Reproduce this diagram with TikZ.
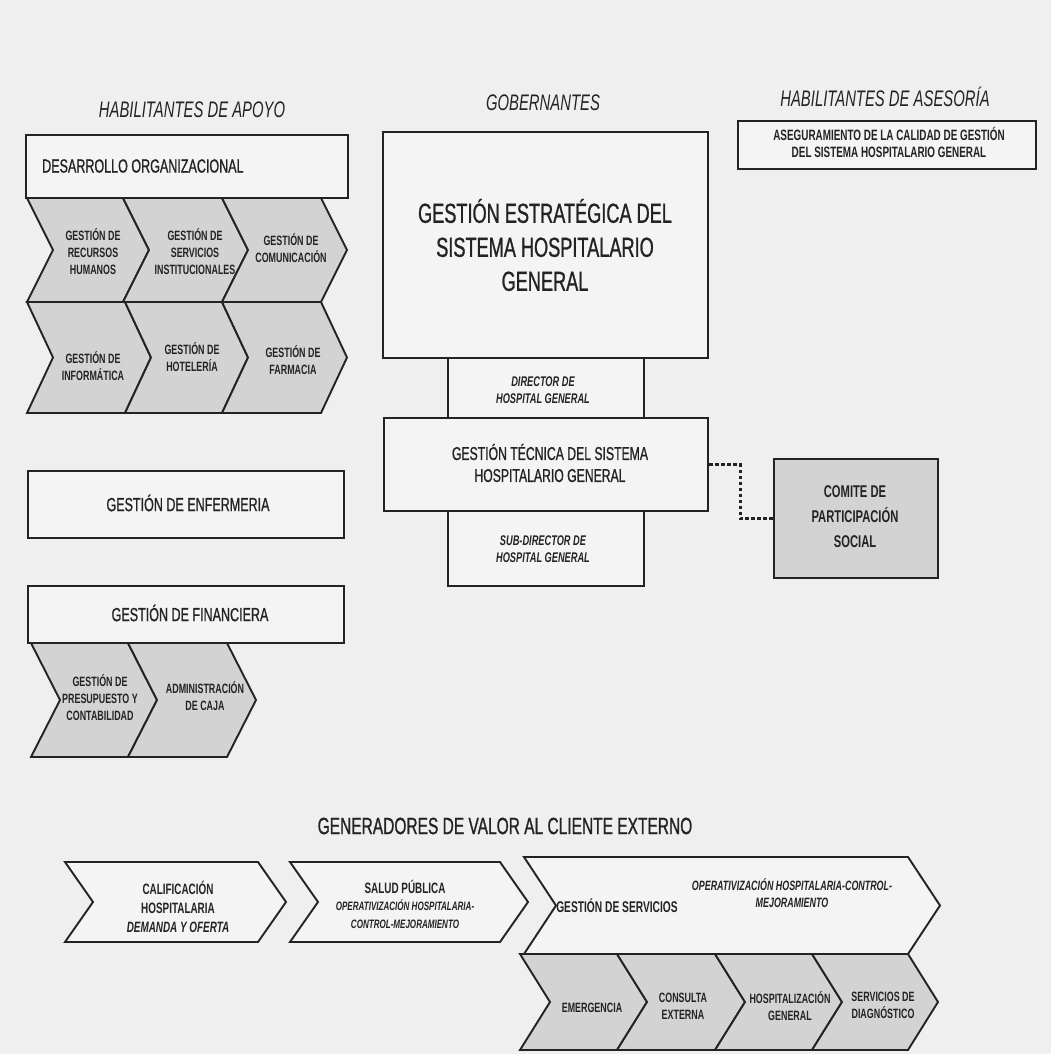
\documentclass[tikz,border=0pt]{standalone}
\usepackage{fontspec}
\setmainfont{Liberation Sans}[FakeStretch=0.66]
\newfontfamily\medfont{Liberation Sans}[FakeStretch=0.66, FakeBold=0.9]
\definecolor{bgc}{HTML}{EFEFEF}
\definecolor{boxc}{HTML}{F4F4F4}
\definecolor{chev}{HTML}{D3D3D3}
\definecolor{ink}{HTML}{232323}
\newcommand{\chevr}[6]{%
  \draw[#1] (#2,#4) -- (#3,#4) -- ({#3+#6},{(#4+#5)/2}) -- (#3,#5) -- (#2,#5) -- ({#2+#6},{(#4+#5)/2}) -- cycle;}
\newcommand{\fs}[2]{\fontsize{#1}{#2}\selectfont}
\begin{document}
\begin{tikzpicture}[x=1pt,y=-1pt,
  box/.style={draw=ink, line width=2.3pt, fill=boxc, inner sep=0pt, anchor=north west},
  gch/.style={draw=ink, line width=1.9pt, fill=chev, line join=miter},
  wch/.style={draw=ink, line width=1.9pt, fill=boxc, line join=miter},
  ttl/.style={text=ink, inner sep=0pt, font=\itshape\fs{22.5}{26}},
  hd/.style={text=ink, inner sep=0pt, font=\medfont\fs{23.5}{26}},
  big/.style={text=ink, inner sep=0pt, align=center, font=\medfont\fs{19}{23}},
  lab/.style={text=ink, inner sep=0pt, align=center, font=\bfseries\fs{13.5}{17}},
  ilab/.style={text=ink, inner sep=0pt, align=center, font=\bfseries\itshape\fs{14}{17}},
  dots/.style={draw=ink, line width=3pt, dash pattern=on 3.5pt off 2.5pt}]
\useasboundingbox (0,0) rectangle (1051,1054);
\fill[bgc] (0,0) rectangle (1051,1054);

% section titles
\node[ttl] (t1) at (192,110) {HABILITANTES DE APOYO};
\node[ttl] (t2) at (543,103) {GOBERNANTES};
\node[ttl] (t3) at (885,97) {HABILITANTES DE ASESORÍA};
\node[hd] (t4) at (505,826) {GENERADORES DE VALOR AL CLIENTE EXTERNO};

% ---------- left column ----------
\node[box, minimum width=322pt, minimum height=63pt] (desb) at (25,134) {};
\node[big, anchor=west] (dest) at (42,166) {DESARROLLO ORGANIZACIONAL};

\chevr{gch}{27}{123}{198}{302}{26}
\chevr{gch}{123}{222}{198}{302}{26}
\chevr{gch}{222}{321}{198}{302}{26}
\node[lab] (rh) at (93,252) {GESTIÓN DE\\RECURSOS\\HUMANOS};
\node[lab] (si) at (195,252) {GESTIÓN DE\\SERVICIOS\\INSTITUCIONALES};
\node[lab] (co) at (291,248) {GESTIÓN DE\\COMUNICACIÓN};

\chevr{gch}{27}{125}{302}{413}{26}
\chevr{gch}{125}{222}{302}{413}{26}
\chevr{gch}{222}{321}{302}{413}{26}
\node[lab] (inf) at (93,366) {GESTIÓN DE\\INFORMÁTICA};
\node[lab] (hot) at (192,357) {GESTIÓN DE\\HOTELERÍA};
\node[lab] (far) at (293,360) {GESTIÓN DE\\FARMACIA};

\node[box, minimum width=316pt, minimum height=67pt] (enfb) at (27,470) {};
\node[big] (enft) at (188,503) {GESTIÓN DE ENFERMERIA};

\node[box, minimum width=316pt, minimum height=57pt] (finb) at (27,585) {};
\node[big] (fint) at (190,613) {GESTIÓN DE FINANCIERA};

\chevr{gch}{31}{128}{643}{757}{29}
\chevr{gch}{128}{227}{643}{757}{29}
\node[lab] (pre) at (100,698) {GESTIÓN DE\\PRESUPUESTO Y\\CONTABILIDAD};
\node[lab] (caj) at (205,696) {ADMINISTRACIÓN\\DE CAJA};

% ---------- centre column ----------
\node[box, minimum width=325pt, minimum height=226pt] (geb) at (382,131) {};
\node[text=ink, inner sep=0pt, align=center, font=\medfont\fs{27.5}{34}] (get) at (545,245) {GESTIÓN ESTRATÉGICA DEL\\SISTEMA HOSPITALARIO\\GENERAL};

\node[box, minimum width=324pt, minimum height=93pt] (gtb) at (383,417) {};
\node[big, font=\medfont\fs{18.5}{22}] (gtt) at (550,463) {GESTIÓN TÉCNICA DEL SISTEMA\\HOSPITALARIO GENERAL};

\node[box, minimum width=196pt, minimum height=60pt] (dirb) at (447,357) {};
\node[ilab] (dirt) at (543,390) {DIRECTOR DE\\HOSPITAL GENERAL};

\node[box, minimum width=196pt, minimum height=75pt] (subb) at (447,510) {};
\node[ilab] (subt) at (543,549) {SUB-DIRECTOR DE\\HOSPITAL GENERAL};

% ---------- right column ----------
\node[box, minimum width=298pt, minimum height=48pt] (aseb) at (737,120) {};
\node[lab, font=\bfseries\fs{15}{17}] (aset) at (889,142) {ASEGURAMIENTO DE LA CALIDAD DE GESTIÓN\\DEL SISTEMA HOSPITALARIO GENERAL};

\node[box, fill=chev, minimum width=164pt, minimum height=119pt] (comb) at (773,458) {};
\node[lab, font=\bfseries\fs{17}{25}] (comt) at (855,517) {COMITE DE\\PARTICIPACIÓN\\SOCIAL};

\coordinate (bend) at (740,0);
\draw[dots] (gtb.east) -- (gtb.east -| bend) |- (comb.west);

% ---------- value generators ----------
\chevr{wch}{65}{258}{862}{942}{28}
\node[lab, font=\bfseries\fs{15}{19}] (cal) at (178,907) {CALIFICACIÓN\\HOSPITALARIA\\\textit{DEMANDA Y OFERTA}};

\chevr{wch}{290}{500}{862}{942}{28}
\node[lab, font=\bfseries\fs{15}{19}] (sal) at (405,887) {SALUD PÚBLICA};
\node[lab, font=\bfseries\itshape\fs{12.2}{18}] (salo) at (405,914) {OPERATIVIZACIÓN HOSPITALARIA-\\CONTROL-MEJORAMIENTO};

\chevr{wch}{524}{908}{857}{954}{32}
\node[lab, font=\bfseries\fs{15.5}{19}] (gs) at (617,906) {GESTIÓN DE SERVICIOS};
\node[lab, font=\bfseries\itshape\fs{13.5}{17}] (gso) at (792,893) {OPERATIVIZACIÓN HOSPITALARIA-CONTROL-\\MEJORAMIENTO};

\chevr{gch}{520}{617}{954}{1050}{30}
\chevr{gch}{617}{715}{954}{1050}{30}
\chevr{gch}{715}{812}{954}{1050}{30}
\chevr{gch}{812}{908}{954}{1050}{30}
\node[lab] (eme) at (592,1008) {EMERGENCIA};
\node[lab] (con) at (683,1006) {CONSULTA\\EXTERNA};
\node[lab] (hos) at (790,1006) {HOSPITALIZACIÓN\\GENERAL};
\node[lab] (dia) at (883,1005) {SERVICIOS DE\\DIAGNÓSTICO};
\end{tikzpicture}
\end{document}
